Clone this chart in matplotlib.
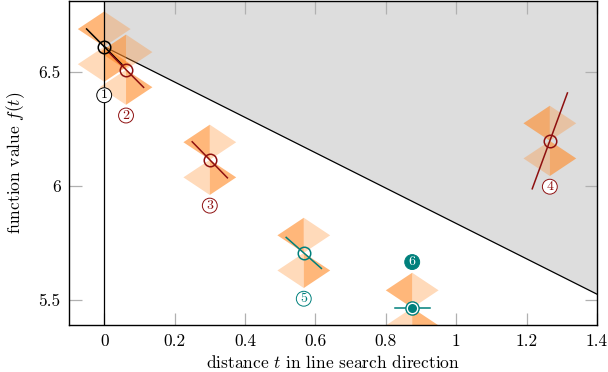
import matplotlib
matplotlib.use("Agg")
import matplotlib.pyplot as plt
from matplotlib.patches import Polygon
import numpy as np

# ---- data ----
t_vals = [0.0, 0.062, 0.30, 1.266, 0.567, 0.875]
f_vals = [6.61, 6.509, 6.114, 6.197, 5.706, 5.465]
slopes = [-1.55, -1.55, -1.58, 4.2, -1.36, 0.0]
point_labels = ['1', '2', '3', '4', '5', '6']
c1 = 0.5
x_ticks = [0, 0.2, 0.4, 0.6, 0.8, 1.0, 1.2, 1.4]
x_tick_labels = ['0', '0.2', '0.4', '0.6', '0.8', '1', '1.2', '1.4']
y_ticks = [5.5, 6.0, 6.5]
y_tick_labels = ['5.5', '6', '6.5']

# ---- style ----
plt.rcParams['font.family'] = ['cmr10', 'DejaVu Serif']
plt.rcParams['mathtext.fontset'] = 'cm'
plt.rcParams['axes.unicode_minus'] = False

BLACK = '#000000'
DRED = '#8e1010'
TEAL = '#00807c'
ORANGE = (1.0, 0.55, 0.16)
point_colors = [BLACK, DRED, DRED, DRED, TEAL, TEAL]
label_offsets = [-35, -33, -33, -33, -33, 33]
label_face = ['white', 'white', 'white', 'white', 'white', TEAL]
label_text = [BLACK, DRED, DRED, DRED, TEAL, 'white']
filled = [False, False, False, False, False, True]

fig = plt.figure(figsize=(6.08, 3.72), dpi=100)
ax = fig.add_axes([69/608, 1 - 325/372, (597-69)/608, (325-1)/372])
xlim = (-0.1, 1.4)
ylim = (5.39, 6.81)
ax.set_xlim(*xlim)
ax.set_ylim(*ylim)

# gray region above Armijo line
tt = np.linspace(0, xlim[1], 50)
armijo = f_vals[0] + c1 * slopes[0] * tt
ax.fill_between(tt, armijo, ylim[1], color='#dddddd', lw=0, zorder=0)
ax.plot(tt, armijo, color='black', lw=0.9, zorder=1)
ax.axvline(0, color='black', lw=0.9, zorder=3)

# diamonds
w, h = 0.075, 0.077
for t, f in zip(t_vals, f_vals):
    dark = ORANGE + (0.62,)
    light = ORANGE + (0.32,)
    polys = [
        ([(t, f + 2*h), (t - w, f + h), (t, f)], dark),
        ([(t, f + 2*h), (t + w, f + h), (t, f)], light),
        ([(t, f), (t - w, f - h), (t, f - 2*h)], light),
        ([(t, f), (t + w, f - h), (t, f - 2*h)], dark),
    ]
    for verts, col in polys:
        ax.add_patch(Polygon(verts, closed=True, facecolor=col, edgecolor='none', zorder=2))

# gradient lines and markers
dt = 0.05
for t, f, s, col, fl in zip(t_vals, f_vals, slopes, point_colors, filled):
    ax.plot([t - dt, t + dt], [f - s*dt, f + s*dt], color=col, lw=1.1, zorder=4)
    if fl:
        ax.plot([t], [f], marker='o', ms=9.5, mfc='white', mec=col, mew=1.0, zorder=5)
        ax.plot([t], [f], marker='o', ms=6.5, mfc=col, mec='none', zorder=6)
    else:
        ax.plot([t], [f], marker='o', ms=9, mfc='none', mec=col, mew=1.1, zorder=5)

# circled labels
for t, f, lab, off, fc, tc, col in zip(t_vals, f_vals, point_labels, label_offsets,
                                       label_face, label_text, point_colors):
    ax.annotate(lab, (t, f), xytext=(0, off), textcoords='offset points',
                ha='center', va='center', fontsize=10, color=tc, zorder=7,
                bbox=dict(boxstyle='circle,pad=0.1', fc=fc, ec=col, lw=0.7))

ax.set_xticks(x_ticks)
ax.set_xticklabels(x_tick_labels)
ax.set_yticks(y_ticks)
ax.set_yticklabels(y_tick_labels)
ax.tick_params(direction='in', length=9, width=0.9, color='#b0b0b0',
               top=True, right=True, labelsize=12.5, pad=6)
for sp in ax.spines.values():
    sp.set_linewidth(1.0)
    sp.set_zorder(10)

ax.set_xlabel('distance $t$ in line search direction', fontsize=12.5, labelpad=4)
ax.set_ylabel('function value $f(t)$', fontsize=12.5, labelpad=8)

fig.savefig('out.png', dpi=100)
